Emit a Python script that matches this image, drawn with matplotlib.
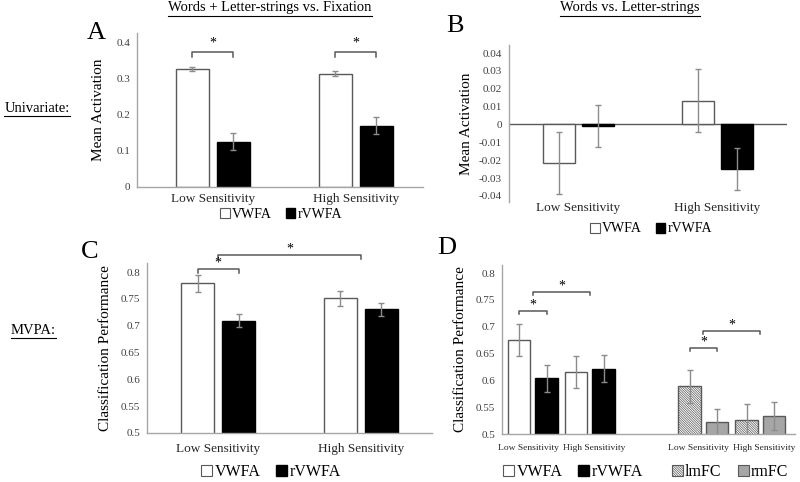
import numpy as np
import matplotlib
matplotlib.use("Agg")
import matplotlib.pyplot as plt
from matplotlib.patches import Patch

plt.rcParams['font.family'] = ['Liberation Serif', 'DejaVu Serif']
plt.rcParams['hatch.color'] = '#404040'
plt.rcParams['hatch.linewidth'] = 0.5

# --- data ---
levels = ['Low Sensitivity', 'High Sensitivity']

a_vwfa = [0.325, 0.313]
a_vwfa_err = [0.006, 0.006]
a_rvwfa = [0.125, 0.169]
a_rvwfa_err = [0.023, 0.023]

b_vwfa = [-0.0216, 0.0134]
b_vwfa_err = [0.0176, 0.0177]
b_rvwfa = [-0.0008, -0.0248]
b_rvwfa_err = [0.0117, 0.0119]

c_vwfa = [0.779, 0.751]
c_vwfa_err = [0.0155, 0.014]
c_rvwfa = [0.709, 0.731]
c_rvwfa_err = [0.012, 0.012]

d_vwfa = [0.675, 0.615]
d_vwfa_err = [0.0305, 0.030]
d_rvwfa = [0.604, 0.622]
d_rvwfa_err = [0.0248, 0.0248]
d_lmfc = [0.589, 0.527]
d_lmfc_err = [0.031, 0.028]
d_rmfc = [0.522, 0.5335]
d_rmfc_err = [0.024, 0.026]

W, H = 800, 482
fig = plt.figure(figsize=(8, 4.82), dpi=100)

EDGE = '#595959'
ERR = '#8c8c8c'
SPINE = '#a6a6a6'
HATCH = '\\' * 14


def px_axes(l, t, r, b):
    return fig.add_axes([l / W, 1 - b / H, (r - l) / W, (b - t) / H])


def style(ax):
    for s in ['top', 'right']:
        ax.spines[s].set_visible(False)
    for s in ['left', 'bottom']:
        ax.spines[s].set_color(SPINE)
        ax.spines[s].set_linewidth(1.0)
    ax.tick_params(length=0, labelsize=8, colors='#404040', pad=5)
    ax.tick_params(axis='x', labelsize=9.5, colors='#262626', pad=4)


def pair_bars(ax, v1, e1, v2, e2, width=0.23, gap=0.056, shift=0.03):
    x = np.arange(len(v1)) + shift
    off = (width + gap) / 2
    ax.bar(x - off, v1, width, color='white', edgecolor=EDGE, linewidth=1.0)
    ax.bar(x + off, v2, width, color='black', edgecolor='black', linewidth=1.0)
    ax.errorbar(x - off, v1, yerr=e1, fmt='none', ecolor=ERR, elinewidth=1, capsize=2.5)
    ax.errorbar(x + off, v2, yerr=e2, fmt='none', ecolor=ERR, elinewidth=1, capsize=2.5)
    ax.set_xlim(-0.5, 1.5)
    ax.set_xticks(x)
    ax.set_xticklabels(levels)
    return x, off


def bracket(ax, x1, x2, y, drop, star_dy):
    ax.plot([x1, x1, x2, x2], [y - drop, y, y, y - drop], color=EDGE, lw=1.1, clip_on=False)
    ax.text((x1 + x2) / 2, y + star_dy, '*', ha='center', va='center', fontsize=10, clip_on=False)


def legend(cx, cy, handles, labels, size):
    fig.legend(handles, labels, loc='center', bbox_to_anchor=(cx / W, 1 - cy / H),
               frameon=False, ncol=len(handles), fontsize=size, handlelength=0.7,
               handleheight=0.7, handletextpad=0.15, columnspacing=1.0, borderpad=0)


def under_text(x, y, s, size):
    t = fig.text(x / W, 1 - y / H, s, ha='center', va='center', fontsize=size)
    fig.canvas.draw()
    bb = t.get_window_extent()
    yy = bb.y0 - 1
    fig.add_artist(plt.Line2D([bb.x0 / W, bb.x1 / W], [yy / H, yy / H], color='black', lw=0.8))


white_h = Patch(facecolor='white', edgecolor=EDGE, linewidth=0.8)
black_h = Patch(facecolor='black', edgecolor='black')
hatch_h = Patch(facecolor='white', edgecolor=EDGE, hatch=HATCH, linewidth=0.8)
gray_h = Patch(facecolor='#a6a6a6', edgecolor=EDGE, linewidth=0.8)

# --- A ---
axA = px_axes(137, 33, 423, 187)
style(axA)
x, off = pair_bars(axA, a_vwfa, a_vwfa_err, a_rvwfa, a_rvwfa_err)
axA.set_ylim(0, 0.425)
axA.set_yticks([0, 0.1, 0.2, 0.3, 0.4])
axA.set_yticklabels(['0', '0.1', '0.2', '0.3', '0.4'])
axA.set_ylabel('Mean Activation', fontsize=11, labelpad=8)
for i in range(2):
    bracket(axA, x[i] - off, x[i] + off, 0.372, 0.013, 0.025)
legend(281, 214, [white_h, black_h], ['VWFA', 'rVWFA'], 10)

# --- B ---
axB = px_axes(509, 45, 787, 202)
style(axB)
axB.spines['bottom'].set_visible(False)
x, off = pair_bars(axB, b_vwfa, b_vwfa_err, b_rvwfa, b_rvwfa_err, width=0.23, gap=0.05, shift=0.0)
axB.axhline(0, color=EDGE, lw=1.0, zorder=0)
axB.set_ylim(-0.0434, 0.0445)
bt = [-0.04, -0.03, -0.02, -0.01, 0, 0.01, 0.02, 0.03, 0.04]
axB.set_yticks(bt)
axB.set_yticklabels(['0' if v == 0 else f'{v:.2f}' for v in bt])
axB.set_ylabel('Mean Activation', fontsize=11, labelpad=4)
axB.tick_params(axis='x', pad=0)
legend(651, 229, [white_h, black_h], ['VWFA', 'rVWFA'], 10)

# --- C ---
axC = px_axes(147, 263, 432, 433)
style(axC)
x, off = pair_bars(axC, c_vwfa, c_vwfa_err, c_rvwfa, c_rvwfa_err, width=0.23, gap=0.056, shift=0.0)
axC.set_ylim(0.5, 0.817)
ct = [0.5, 0.55, 0.6, 0.65, 0.7, 0.75, 0.8]
axC.set_yticks(ct)
axC.set_yticklabels([f'{v:g}' for v in ct])
axC.set_ylabel('Classification Performance', fontsize=11, labelpad=6)
axC.tick_params(axis='x', pad=7)
bracket(axC, x[0] - off, x[0] + off, 0.805, 0.007, 0.012)
bracket(axC, x[0], x[1], 0.831, 0.006, 0.012)
legend(271, 472, [white_h, black_h], ['VWFA', 'rVWFA'], 11.5)

# --- D ---
axD = px_axes(502, 265, 795, 434)
style(axD)
groups = [(d_vwfa, d_vwfa_err, d_rvwfa, d_rvwfa_err), (d_lmfc, d_lmfc_err, d_rmfc, d_rmfc_err)]
group_centers = [59.5, 230.0]
pair_step = 57.0
bar_step = 27.5
bw = 22.5
tick_pos = []
for g, (v1, e1, v2, e2) in enumerate(groups):
    pc = group_centers[g] + (np.arange(2) - 0.5) * pair_step
    tick_pos += list(pc + np.array([-5, 4]))
    if g == 0:
        s1 = dict(color='white', edgecolor=EDGE)
        s2 = dict(color='black', edgecolor='black')
    else:
        s1 = dict(color='white', edgecolor=EDGE, hatch=HATCH)
        s2 = dict(color='#a6a6a6', edgecolor=EDGE)
    axD.bar(pc - bar_step / 2, v1, bw, linewidth=1.0, **s1)
    axD.bar(pc + bar_step / 2, v2, bw, linewidth=1.0, **s2)
    axD.errorbar(pc - bar_step / 2, v1, yerr=e1, fmt='none', ecolor=ERR, elinewidth=1, capsize=2.5)
    axD.errorbar(pc + bar_step / 2, v2, yerr=e2, fmt='none', ecolor=ERR, elinewidth=1, capsize=2.5)
    bracket(axD, pc[0] - bar_step / 2, pc[0] + bar_step / 2, [0.729, 0.660][g], 0.005, 0.011)
    bracket(axD, pc[0], pc[1], [0.764, 0.692][g], 0.005, 0.011)
axD.set_xlim(0, 293)
axD.set_xticks(tick_pos)
axD.set_xticklabels(levels * 2)
axD.tick_params(axis='x', labelsize=6.8, pad=7)
axD.set_ylim(0.5, 0.815)
axD.set_yticks(ct)
axD.set_yticklabels([f'{v:g}' for v in ct])
axD.set_ylabel('Classification Performance', fontsize=11, labelpad=6)
legend(573, 472, [white_h, black_h], ['VWFA', 'rVWFA'], 11.5)
legend(730, 472, [hatch_h, gray_h], ['lmFC', 'rmFC'], 11.5)

# --- labels ---
for letter, lx, ly in [('A', 96, 33), ('B', 455, 26), ('C', 90, 252), ('D', 447, 248)]:
    fig.text(lx / W, 1 - ly / H, letter, fontsize=19, ha='center', va='center')

under_text(270, 8, 'Words + Letter-strings vs. Fixation', 10.5)
under_text(630, 8, 'Words vs. Letter-strings', 10.5)
under_text(37, 108, 'Univariate:', 10.5)
under_text(33, 330, 'MVPA:', 10.5)

fig.savefig('out.png', dpi=100)
